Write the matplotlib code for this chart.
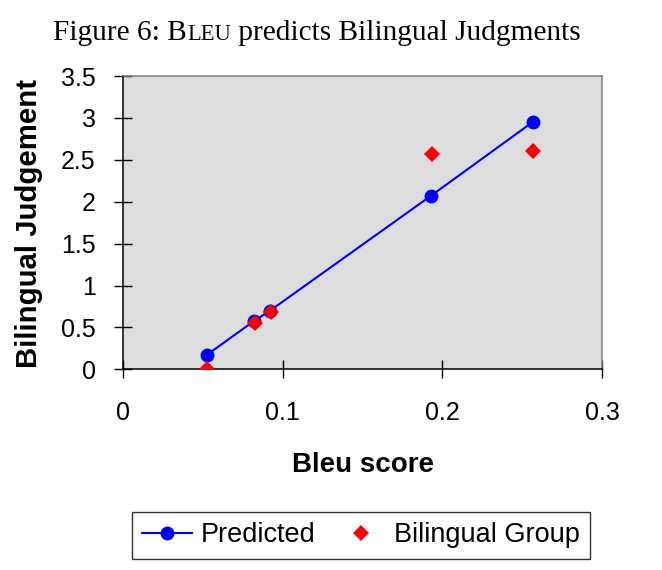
import matplotlib
matplotlib.use("Agg")
import matplotlib.pyplot as plt
from matplotlib.lines import Line2D

# Data
bleu_pred = [0.0523, 0.0819, 0.0919, 0.1926, 0.2566]
judg_pred = [0.171, 0.576, 0.699, 2.068, 2.951]
bleu_bil = [0.0526, 0.0825, 0.0926, 0.1933, 0.2569]
judg_bil = [0.0, 0.549, 0.687, 2.569, 2.609]
xticks = [0, 0.1, 0.2, 0.3]
xtick_labels = ["0", "0.1", "0.2", "0.3"]
yticks = [0, 0.5, 1, 1.5, 2, 2.5, 3, 3.5]
ytick_labels = ["0", "0.5", "1", "1.5", "2", "2.5", "3", "3.5"]

W, H = 662, 570
fig = plt.figure(figsize=(W / 100, H / 100), dpi=100)
fig.patch.set_facecolor("white")

l, r, b, t = 123.3, 602.0, 369.3, 76.0
ax = fig.add_axes([l / W, 1 - b / H, (r - l) / W, (b - t) / H])
ax.set_facecolor("#DDDDDD")

ax.plot(bleu_pred, judg_pred, color="#0000FF", lw=1.5, marker="o",
        markersize=10, markeredgewidth=0, zorder=3, label="Predicted")
ax.plot(bleu_bil, judg_bil, linestyle="none", color="#FF0000", marker="D",
        markersize=8.3, markeredgewidth=0, zorder=4, label="Bilingual Group")

ax.set_xlim(0, 0.3)
ax.set_ylim(0, 3.5)
ax.set_xticks(xticks)
ax.set_xticklabels(xtick_labels)
ax.set_yticks(yticks)
ax.set_yticklabels(ytick_labels)

for s in ["left", "bottom"]:
    ax.spines[s].set_color("black")
    ax.spines[s].set_linewidth(1.1)
for s in ["top", "right"]:
    ax.spines[s].set_color("#808080")
    ax.spines[s].set_linewidth(1.1)

tickfont = "Liberation Sans"
ax.tick_params(axis="both", direction="inout", length=13.5, width=1.0,
               color="black", labelsize=18)
ax.tick_params(axis="y", pad=13)
ax.tick_params(axis="x", pad=16)
for lab in ax.get_xticklabels() + ax.get_yticklabels():
    lab.set_fontfamily(tickfont)

ax.set_xlabel("Bleu score", fontsize=20, fontweight="bold", fontfamily=tickfont)
ax.xaxis.set_label_coords(0.5, (b - 452) / (b - t))
ax.xaxis.label.set_va("top")

fig.text(36.7 / W, 1 - 224 / H, "Bilingual Judgement", rotation=90,
         rotation_mode="anchor", ha="center", va="baseline",
         fontsize=21.2, fontweight="bold", fontfamily=tickfont)

# Legend
handles = [
    Line2D([], [], color="#0000FF", lw=1.5, marker="o", markersize=10,
           markeredgewidth=0),
    Line2D([], [], color="#FF0000", linestyle="none", marker="D", markersize=8.3,
           markeredgewidth=0),
]
leg = fig.legend(handles, ["Predicted", "Bilingual Group"], ncol=2,
                 loc="center", bbox_to_anchor=(361 / W, 1 - 535.5 / H),
                 prop={"family": tickfont, "size": 19.5},
                 frameon=True, fancybox=False, shadow=False,
                 handlelength=1.85, handletextpad=0.3, columnspacing=0.75,
                 borderpad=0.38, borderaxespad=0)
leg.get_frame().set_edgecolor("black")
leg.get_frame().set_linewidth(1.0)

# Title with small caps "LEU"
serif = "Liberation Serif"
tsize = 21.2
baseline_y = 1 - 40 / H
fig.canvas.draw()
renderer = fig.canvas.get_renderer()
pieces = [("Figure 6: B", tsize), ("LEU", tsize * 0.77),
          (" predicts Bilingual Judgments", tsize)]
texts = []
x = 0
for s, fs in pieces:
    tx = fig.text(x, baseline_y, s, fontsize=fs, fontfamily=serif,
                  ha="left", va="baseline")
    bb = tx.get_window_extent(renderer)
    x = x + bb.width / W
    texts.append((tx, bb.width / W))
total = x
start = 317 / W - total / 2
x = start
for tx, w in texts:
    tx.set_x(x)
    x += w

fig.savefig("out.png", dpi=100, facecolor="white")
